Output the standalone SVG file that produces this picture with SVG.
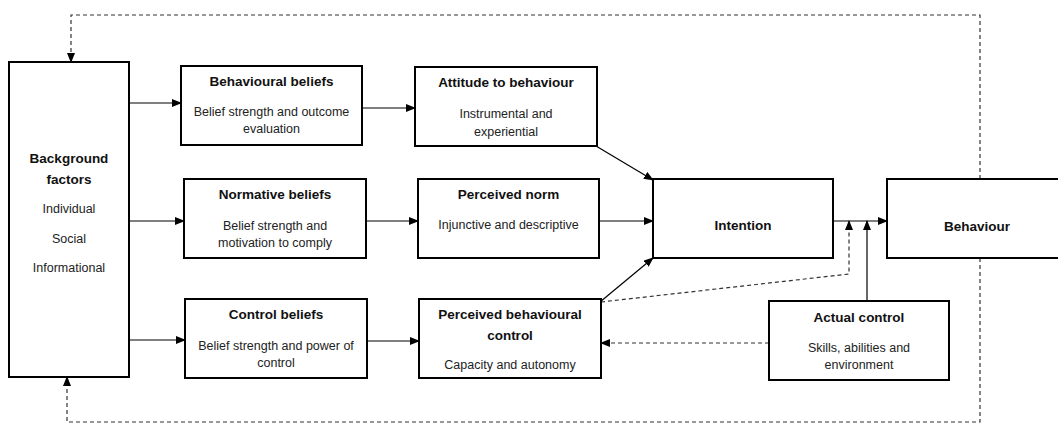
<svg xmlns="http://www.w3.org/2000/svg" width="1058" height="424" viewBox="0 0 1058 424">
<style>
.box{fill:#fff;stroke:#000;stroke-width:2}
.t{font-family:"Liberation Sans",Arial,sans-serif;font-size:13.5px;font-weight:bold;text-anchor:middle;fill:#111}
.b{font-family:"Liberation Sans",Arial,sans-serif;font-size:12.5px;text-anchor:middle;fill:#222}
.c{fill:none;stroke:#000;stroke-width:1.2}
.d{fill:none;stroke:#333;stroke-width:1.2;stroke-dasharray:4 3}
</style>
<defs>
<marker id="ah" markerWidth="10" markerHeight="8" refX="9" refY="4" orient="auto" markerUnits="userSpaceOnUse">
<path d="M0,0 L10,4 L0,8 Z" fill="#000"/>
</marker>
</defs>
<rect width="1058" height="424" fill="#fff"/>
<g id="connectors">
<line class="c" x1="127" y1="103" x2="181" y2="103" marker-end="url(#ah)"/>
<line class="c" x1="129" y1="221" x2="184" y2="221" marker-end="url(#ah)"/>
<line class="c" x1="129" y1="340" x2="185" y2="340" marker-end="url(#ah)"/>
<line class="c" x1="362" y1="108" x2="415" y2="108" marker-end="url(#ah)"/>
<line class="c" x1="366" y1="221" x2="418" y2="221" marker-end="url(#ah)"/>
<line class="c" x1="367" y1="341" x2="419" y2="341" marker-end="url(#ah)"/>
<line class="c" x1="596" y1="146" x2="653" y2="180" marker-end="url(#ah)"/>
<line class="c" x1="599" y1="221" x2="653" y2="221" marker-end="url(#ah)"/>
<line class="c" x1="600" y1="302" x2="653" y2="258" marker-end="url(#ah)"/>
<line class="c" x1="833" y1="221" x2="887" y2="221" marker-end="url(#ah)"/>
<line class="c" x1="867" y1="301" x2="867" y2="221" marker-end="url(#ah)"/>
<polyline class="d" points="601,302 849,274 849,221" marker-end="url(#ah)"/>
<line class="d" x1="769" y1="343" x2="601" y2="343" marker-end="url(#ah)"/>
<polyline class="d" points="980,179 980,15 71,15 71,62" marker-end="url(#ah)"/>
<polyline class="d" points="980,258 980,422 67,422 67,377" marker-end="url(#ah)"/>
</g>
<g id="background">
<rect class="box" x="9" y="62" width="120" height="315"/>
<text class="t" x="69" y="163">Background</text>
<text class="t" x="69" y="184">factors</text>
<text class="b" x="69" y="213">Individual</text>
<text class="b" x="69" y="243">Social</text>
<text class="b" x="69" y="272">Informational</text>
</g>
<g id="behavioural-beliefs">
<rect class="box" x="181" y="66" width="181" height="79"/>
<text class="t" x="271.5" y="86">Behavioural beliefs</text>
<text class="b" x="271.5" y="116">Belief strength and outcome</text>
<text class="b" x="271.5" y="133">evaluation</text>
</g>
<g id="normative-beliefs">
<rect class="box" x="184" y="179" width="182" height="79"/>
<text class="t" x="275" y="199">Normative beliefs</text>
<text class="b" x="275" y="230">Belief strength and</text>
<text class="b" x="275" y="247">motivation to comply</text>
</g>
<g id="control-beliefs">
<rect class="box" x="185" y="299" width="182" height="79"/>
<text class="t" x="276" y="319">Control beliefs</text>
<text class="b" x="276" y="350">Belief strength and power of</text>
<text class="b" x="276" y="367">control</text>
</g>
<g id="attitude">
<rect class="box" x="415" y="67" width="182" height="79"/>
<text class="t" x="506" y="87">Attitude to behaviour</text>
<text class="b" x="506" y="118">Instrumental and</text>
<text class="b" x="506" y="136">experiential</text>
</g>
<g id="perceived-norm">
<rect class="box" x="418" y="179" width="181" height="79"/>
<text class="t" x="508.5" y="199">Perceived norm</text>
<text class="b" x="508.5" y="229">Injunctive and descriptive</text>
</g>
<g id="pbc">
<rect class="box" x="419" y="299" width="182" height="79"/>
<text class="t" x="510" y="319">Perceived behavioural</text>
<text class="t" x="510" y="340">control</text>
<text class="b" x="510" y="369">Capacity and autonomy</text>
</g>
<g id="intention">
<rect class="box" x="653" y="179" width="180" height="79"/>
<text class="t" x="743" y="230">Intention</text>
</g>
<g id="behaviour">
<rect class="box" x="887" y="179" width="180" height="79"/>
<text class="t" x="977" y="231">Behaviour</text>
</g>
<g id="actual-control">
<rect class="box" x="769" y="301" width="180" height="79"/>
<text class="t" x="859" y="322">Actual control</text>
<text class="b" x="859" y="352">Skills, abilities and</text>
<text class="b" x="859" y="369">environment</text>
</g>
</svg>
